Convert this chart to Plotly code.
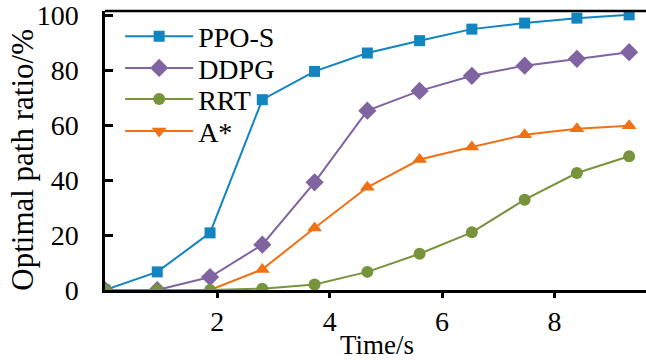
import plotly.graph_objects as go

time_s = [0, 0.93, 1.87, 2.8, 3.73, 4.67, 5.6, 6.53, 7.47, 8.4, 9.33]
ppo_s = [0, 6.6, 20.8, 69.3, 79.6, 86.3, 90.8, 95.0, 97.2, 99.0, 100.2]
ddpg = [0, 0, 4.7, 16.5, 39.2, 65.3, 72.5, 78.0, 81.7, 84.2, 86.6]
rrt = [0, 0, 0, 0.5, 2.0, 6.6, 13.2, 21.0, 32.9, 42.6, 48.7]
a_star = [0, 0, 0, 7.5, 22.6, 37.4, 47.5, 52.1, 56.5, 58.7, 59.8]

x_ticks = [2, 4, 6, 8]
y_ticks = [0, 20, 40, 60, 80, 100]

FONT = "Liberation Serif, Times New Roman, serif"
C_PPO = "#1284C0"
C_DDPG = "#8064A2"
C_RRT = "#77933C"
C_A = "#F07113"

fig = go.Figure()
fig.add_trace(go.Scatter(x=time_s, y=ppo_s, name="PPO-S", mode="lines+markers",
                         line=dict(color=C_PPO, width=2),
                         marker=dict(symbol="square", size=11, color=C_PPO),
                         legend="legend"))
fig.add_trace(go.Scatter(x=time_s, y=ddpg, name="DDPG", mode="lines+markers",
                         line=dict(color=C_DDPG, width=2),
                         marker=dict(symbol="diamond", size=14, color=C_DDPG),
                         legend="legend2"))
fig.add_trace(go.Scatter(x=time_s, y=a_star, name="A*", mode="lines+markers",
                         line=dict(color=C_A, width=2),
                         marker=dict(symbol="triangle-up", size=13, color=C_A),
                         showlegend=False))
fig.add_trace(go.Scatter(x=time_s, y=rrt, name="RRT", mode="lines+markers",
                         line=dict(color=C_RRT, width=2),
                         marker=dict(symbol="circle", size=12, color=C_RRT),
                         legend="legend3"))
# legend entry for A* (legend glyph is a down-pointing triangle)
fig.add_trace(go.Scatter(x=[None], y=[None], name="A*", mode="lines+markers",
                         line=dict(color=C_A, width=2),
                         marker=dict(symbol="triangle-down", size=13, color=C_A),
                         legend="legend4"))

def leg(row_center_px):
    return dict(x=0.028, y=(290.5 - row_center_px) / 279.5, xanchor="left",
                yanchor="middle", bgcolor="rgba(0,0,0,0)",
                font=dict(family=FONT, size=28), itemwidth=68)

fig.update_layout(
    width=646, height=360,
    margin=dict(l=105, r=0, t=11, b=69.5),
    paper_bgcolor="white", plot_bgcolor="white",
    font=dict(family=FONT, size=28, color="black"),
    showlegend=True,
    legend=leg(36.7), legend2=leg(68.3), legend3=leg(99.5), legend4=leg(131.5),
)
fig.update_xaxes(range=[0, 9.63], tickvals=x_ticks, ticks="outside", ticklen=5,
                 tickwidth=2.5, tickcolor="black", showline=True, linewidth=2.5,
                 linecolor="black", showgrid=False, zeroline=False,
                 tickfont=dict(family=FONT, size=28))
fig.update_yaxes(range=[0, 101.6], tickvals=y_ticks, ticks="inside", ticklen=8,
                 tickwidth=2.5, tickcolor="black", showline=True, linewidth=2.5,
                 linecolor="black", showgrid=False, zeroline=False,
                 ticklabelstandoff=18, tickfont=dict(family=FONT, size=28),
                 mirror=False)
# top border line
fig.add_shape(type="line", xref="paper", yref="paper", x0=0, x1=1, y0=1, y1=1,
              line=dict(color="black", width=2.5))

fig.add_annotation(text="Time/s", xref="paper", yref="paper",
                   x=(376.7 - 105) / 541, y=(290.5 - 345.5) / 279.5,
                   showarrow=False, font=dict(family=FONT, size=27),
                   xanchor="center", yanchor="middle")
fig.add_annotation(text="Optimal path ratio/%", xref="paper", yref="paper",
                   x=(23 - 105) / 541, y=(290.5 - 160) / 279.5, textangle=-90,
                   showarrow=False, font=dict(family=FONT, size=31),
                   xanchor="center", yanchor="middle")

fig.write_html("out.html")
